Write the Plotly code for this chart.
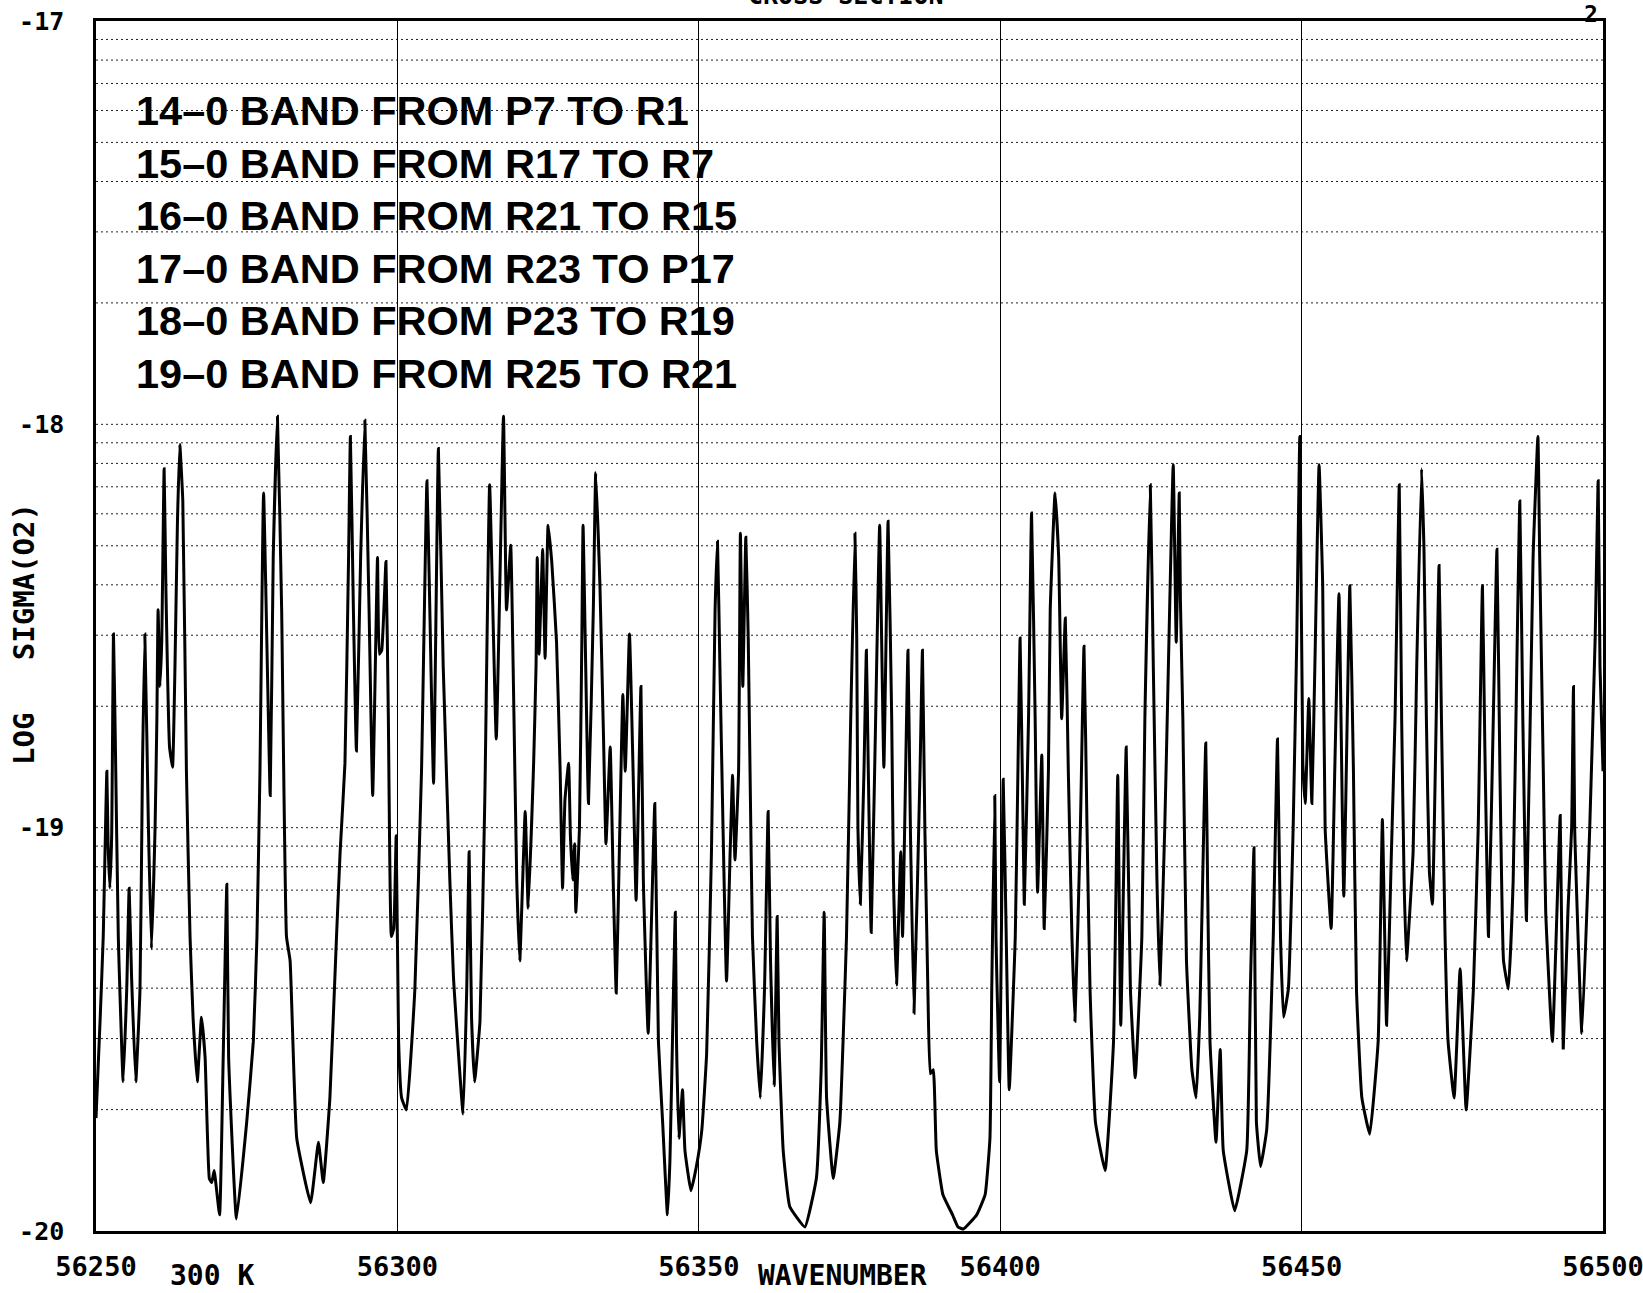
import numpy as np
import plotly.graph_objects as go

# ---------------- data ----------------
wavenumber = [
    56250.0, 56250.7, 56251.2, 56251.8, 56252.0, 56252.3, 56252.6, 56252.9, 56253.2, 56253.7,
    56254.5, 56255.1, 56255.5, 56255.9, 56256.6, 56257.3, 56257.7, 56258.1, 56258.7, 56259.2,
    56259.8, 56260.1, 56260.3, 56260.6, 56260.9, 56261.3, 56261.6, 56262.2, 56262.7, 56263.1,
    56263.5, 56263.9, 56264.4, 56265.0, 56265.6, 56266.1, 56266.8, 56267.5, 56268.1, 56268.8,
    56269.2, 56269.6, 56270.5, 56271.1, 56271.7, 56272.0, 56273.3, 56275.0, 56276.1, 56276.7,
    56277.2, 56277.8, 56278.9, 56279.4, 56280.1, 56280.8, 56281.6, 56282.2, 56283.3, 56285.6,
    56286.9, 56287.7, 56288.8, 56289.9, 56290.5, 56291.3, 56291.9, 56292.2, 56292.7, 56293.2,
    56293.9, 56294.6, 56295.3, 56295.9, 56296.7, 56297.0, 56297.4, 56298.1, 56298.5, 56299.0,
    56299.4, 56299.8, 56300.2, 56300.7, 56301.5, 56302.9, 56304.0, 56304.9, 56305.3, 56306.0,
    56306.8, 56307.6, 56308.7, 56309.3, 56310.9, 56311.5, 56311.9, 56312.3, 56312.8, 56313.7,
    56314.5, 56315.3, 56316.4, 56317.6, 56318.1, 56318.8, 56319.2, 56319.8, 56320.3, 56321.2,
    56321.7, 56322.6, 56323.0, 56323.2, 56323.5, 56324.1, 56324.5, 56325.0, 56325.6, 56326.4,
    56327.0, 56327.4, 56327.8, 56328.4, 56328.7, 56329.1, 56329.4, 56329.6, 56330.2, 56330.6,
    56330.8, 56331.7, 56332.5, 56332.9, 56333.6, 56334.2, 56334.6, 56335.3, 56335.8, 56336.3,
    56336.9, 56337.4, 56337.8, 56338.5, 56339.1, 56339.6, 56340.4, 56340.8, 56341.6, 56342.7,
    56343.3, 56344.0, 56344.8, 56345.2, 56346.1, 56346.3, 56346.7, 56347.3, 56347.7, 56348.7,
    56349.6, 56350.5, 56351.3, 56352.1, 56352.7, 56353.1, 56353.5, 56354.6, 56355.2, 56355.6,
    56356.0, 56356.6, 56356.9, 56357.3, 56357.8, 56358.2, 56358.5, 56358.9, 56359.6, 56360.2,
    56360.9, 56361.5, 56361.9, 56362.5, 56363.0, 56363.3, 56364.0, 56365.1, 56367.6, 56369.5,
    56370.3, 56370.8, 56371.2, 56372.3, 56373.4, 56374.5, 56375.2, 56375.9, 56376.2, 56376.4,
    56376.8, 56377.4, 56377.8, 56378.1, 56378.6, 56379.5, 56380.0, 56380.7, 56381.4, 56382.0,
    56382.3, 56382.8, 56383.5, 56383.8, 56384.7, 56385.1, 56385.7, 56386.7, 56387.1, 56387.5,
    56388.0, 56388.4, 56388.9, 56389.4, 56390.5, 56392.1, 56393.0, 56393.9, 56396.1, 56397.5,
    56398.3, 56398.6, 56399.1, 56399.3, 56399.9, 56400.5, 56401.0, 56401.5, 56402.5, 56403.0,
    56403.3, 56403.8, 56404.0, 56404.7, 56405.2, 56405.8, 56406.2, 56406.9, 56407.3, 56408.0,
    56408.3, 56409.1, 56409.7, 56410.2, 56410.8, 56411.3, 56411.9, 56412.4, 56413.3, 56413.9,
    56414.4, 56414.9, 56415.8, 56417.4, 56418.8, 56419.5, 56420.0, 56420.9, 56421.6, 56422.4,
    56423.5, 56424.0, 56424.9, 56425.4, 56426.0, 56426.5, 56427.3, 56427.9, 56428.7, 56429.2,
    56429.7, 56429.9, 56430.3, 56430.9, 56431.8, 56432.5, 56433.1, 56434.1, 56434.4, 56434.8,
    56435.8, 56436.5, 56437.0, 56438.9, 56440.9, 56441.5, 56442.1, 56442.5, 56443.2, 56444.2,
    56445.3, 56446.0, 56446.5, 56447.0, 56447.8, 56448.6, 56449.2, 56449.7, 56450.2, 56450.6,
    56451.2, 56451.7, 56452.2, 56452.9, 56453.5, 56453.9, 56454.9, 56455.5, 56456.2, 56457.0,
    56458.0, 56458.6, 56459.1, 56460.0, 56461.3, 56462.7, 56463.4, 56464.1, 56464.9, 56465.5,
    56466.2, 56466.6, 56467.0, 56467.4, 56468.5, 56469.1, 56469.9, 56470.3, 56470.7, 56471.2,
    56471.7, 56472.8, 56473.2, 56473.8, 56474.3, 56475.3, 56476.3, 56477.3, 56478.5, 56479.3,
    56480.0, 56480.4, 56481.0, 56481.8, 56482.4, 56482.9, 56483.5, 56484.3, 56485.1, 56485.7,
    56486.2, 56486.7, 56487.3, 56488.4, 56489.2, 56489.5, 56490.1, 56490.5, 56491.6, 56492.9,
    56493.4, 56494.2, 56494.8, 56495.1, 56495.3, 56496.5, 56497.8, 56498.7, 56499.2, 56499.5,
    56500.0,
]

log_sigma = [
    -19.72, -19.47, -19.27, -18.86, -19.04, -19.15, -19.02, -18.52, -18.78, -19.27,
    -19.63, -19.40, -19.15, -19.37, -19.63, -19.40, -18.86, -18.52, -19.00, -19.30,
    -19.00, -18.73, -18.46, -18.65, -18.54, -18.11, -18.41, -18.80, -18.85, -18.60,
    -18.25, -18.05, -18.19, -18.86, -19.27, -19.47, -19.63, -19.47, -19.57, -19.87,
    -19.88, -19.85, -19.96, -19.57, -19.14, -19.57, -19.97, -19.73, -19.53, -19.27,
    -18.86, -18.17, -18.92, -18.33, -17.98, -18.46, -19.27, -19.33, -19.77, -19.93,
    -19.78, -19.88, -19.67, -19.27, -19.06, -18.84, -18.33, -18.03, -18.46, -18.81,
    -18.33, -17.99, -18.46, -18.92, -18.33, -18.57, -18.56, -18.34, -18.73, -19.27,
    -19.25, -19.02, -19.53, -19.67, -19.70, -19.40, -18.86, -18.14, -18.40, -18.89,
    -18.06, -18.60, -19.13, -19.37, -19.71, -19.40, -19.06, -19.47, -19.63, -19.48,
    -18.93, -18.15, -18.78, -17.98, -18.46, -18.30, -18.60, -19.13, -19.33, -18.96,
    -19.20, -18.84, -18.60, -18.33, -18.57, -18.31, -18.58, -18.25, -18.34, -18.54,
    -18.86, -19.15, -18.93, -18.84, -19.02, -19.13, -19.04, -19.21, -19.00, -18.53,
    -18.25, -18.94, -18.46, -18.12, -18.40, -18.78, -19.04, -18.80, -19.13, -19.41,
    -19.00, -18.67, -18.86, -18.52, -18.86, -19.18, -18.65, -19.13, -19.51, -18.94,
    -19.53, -19.73, -19.96, -19.83, -19.21, -19.53, -19.77, -19.65, -19.80, -19.90,
    -19.84, -19.75, -19.56, -19.06, -18.46, -18.29, -18.60, -19.38, -19.06, -18.87,
    -19.08, -18.86, -18.27, -18.65, -18.28, -18.53, -18.86, -19.27, -19.53, -19.67,
    -19.40, -18.96, -19.33, -19.64, -19.22, -19.53, -19.80, -19.94, -19.99, -19.87,
    -19.60, -19.21, -19.67, -19.87, -19.73, -19.27, -18.73, -18.27, -18.53, -19.00,
    -19.19, -18.86, -18.56, -18.84, -19.26, -18.60, -18.25, -18.85, -18.24, -18.73,
    -19.13, -19.39, -19.06, -19.27, -18.56, -19.00, -19.46, -18.86, -18.56, -19.00,
    -19.40, -19.61, -19.60, -19.80, -19.91, -19.96, -19.99, -19.995, -19.96, -19.91,
    -19.77, -19.40, -18.92, -19.27, -19.63, -18.88, -19.27, -19.65, -19.27, -18.80,
    -18.53, -19.00, -19.19, -18.73, -18.22, -18.73, -19.16, -18.82, -19.25, -18.86,
    -18.46, -18.17, -18.33, -18.73, -18.48, -18.86, -19.27, -19.48, -19.00, -18.55,
    -19.00, -19.40, -19.73, -19.85, -19.53, -18.87, -19.49, -18.80, -19.40, -19.62,
    -19.27, -18.73, -18.15, -18.60, -19.13, -19.39, -19.00, -18.60, -18.10, -18.54,
    -18.17, -18.44, -18.73, -19.33, -19.60, -19.67, -19.47, -18.79, -19.13, -19.53,
    -19.78, -19.55, -19.80, -19.95, -19.80, -19.40, -19.05, -19.73, -19.84, -19.75,
    -19.27, -18.78, -19.27, -19.47, -19.40, -19.00, -18.53, -18.03, -18.84, -18.94,
    -18.68, -18.94, -18.60, -18.10, -18.40, -19.00, -19.25, -18.86, -18.42, -19.17,
    -18.40, -18.86, -19.40, -19.67, -19.76, -19.53, -18.98, -19.49, -19.06, -18.73,
    -18.15, -18.73, -19.13, -19.33, -19.06, -18.60, -18.11, -18.31, -18.73, -19.11,
    -19.19, -18.35, -18.73, -19.27, -19.53, -19.67, -19.35, -19.70, -19.40, -19.00,
    -18.40, -18.80, -19.27, -18.73, -18.31, -18.86, -19.33, -19.40, -19.13, -18.60,
    -18.19, -18.73, -19.23, -18.33, -18.03, -18.33, -18.86, -19.21, -19.53, -18.97,
    -19.55, -19.20, -19.00, -18.65, -19.00, -19.51, -19.00, -18.53, -18.14, -18.60,
    -18.86,
]

x_ticks = [56250, 56300, 56350, 56400, 56450, 56500]
y_ticks = [-20, -19, -18, -17]
y_tick_text = ["-20", "-19", "-18", "-17"]

band_labels = [
    "14\u20130 BAND FROM P7 TO R1",
    "15\u20130 BAND FROM R17 TO R7",
    "16\u20130 BAND FROM R21 TO R15",
    "17\u20130 BAND FROM R23 TO P17",
    "18\u20130 BAND FROM P23 TO R19",
    "19\u20130 BAND FROM R25 TO R21",
]
title_text = "CROSS SECTION"
page_number = "2"
temperature_label = "300 K"
x_title = "WAVENUMBER"
y_title = "LOG\u00a0\u00a0\u00a0SIGMA(O2)"

# ---------------- layout geometry ----------------
W, H = 1643, 1293
L, R, T, B = 96, 40, 21, 62
PW, PH = W - L - R, H - T - B


def px_x(p):
    return (p - L) / PW


def px_y(p):
    return 1 - (p - T) / PH


MONO = "DejaVu Sans Mono, Liberation Mono, monospace"
SANS = "Liberation Sans, Arial, Helvetica, sans-serif"

fig = go.Figure()
fig.add_trace(go.Scatter(
    x=wavenumber, y=log_sigma, mode="lines",
    line=dict(color="black", width=3, shape="spline", smoothing=0.35),
    hoverinfo="skip", showlegend=False,
))

# dotted log-scale grid lines (minor decades of sigma)
shapes = []
for d in (-20, -19, -18):
    for k in range(1, 10):
        yv = d + np.log10(k)
        if yv <= -20 or yv >= -17:
            continue
        shapes.append(dict(
            type="line", xref="paper", yref="y", x0=0, x1=1, y0=yv, y1=yv,
            line=dict(color="#222222", width=1, dash="2px,3px"), layer="below",
        ))

annotations = []
for i, txt in enumerate(band_labels):
    annotations.append(dict(
        text="<b>" + txt + "</b>", xref="paper", yref="paper",
        x=px_x(134), y=px_y(111 + i * 52.4), xanchor="left", yanchor="middle",
        showarrow=False, font=dict(family=SANS, size=41.5, color="black"),
    ))

annotations += [
    dict(text="<b>" + y_title + "</b>", xref="paper", yref="paper", x=px_x(24), y=px_y(634),
         textangle=-90, showarrow=False, xanchor="center", yanchor="middle",
         font=dict(family=MONO, size=29, color="black")),
    dict(text="<b>" + x_title + "</b>", xref="paper", yref="paper", x=px_x(842), y=px_y(1275),
         showarrow=False, xanchor="center", yanchor="middle",
         font=dict(family=MONO, size=28, color="black")),
    dict(text="<b>" + temperature_label + "</b>", xref="paper", yref="paper",
         x=px_x(212), y=px_y(1275),
         showarrow=False, xanchor="center", yanchor="middle",
         font=dict(family=MONO, size=28, color="black")),
    dict(text="<b>" + title_text + "</b>", xref="paper", yref="paper", x=px_x(846), y=px_y(-4),
         showarrow=False, xanchor="center", yanchor="middle",
         font=dict(family=MONO, size=25, color="black")),
    dict(text="<b>" + page_number + "</b>", xref="paper", yref="paper",
         x=px_x(1591), y=px_y(14),
         showarrow=False, xanchor="center", yanchor="middle",
         font=dict(family=MONO, size=23, color="black")),
]

fig.update_layout(
    width=W, height=H,
    margin=dict(l=L, r=R, t=T, b=B, pad=0, autoexpand=False),
    paper_bgcolor="white", plot_bgcolor="white",
    shapes=shapes, annotations=annotations,
    showlegend=False,
    xaxis=dict(
        range=[56250, 56500], tickvals=x_ticks,
        ticktext=["<b>%d</b>" % v for v in x_ticks],
        showgrid=True, gridcolor="black", gridwidth=1, automargin=False,
        showline=True, linecolor="black", linewidth=2.5, mirror=True,
        ticks="", zeroline=False, ticklabelstandoff=10, ticklabeloverflow="allow",
        tickfont=dict(family=MONO, size=27, color="black"),
    ),
    yaxis=dict(
        range=[-20, -17], tickvals=y_ticks,
        ticktext=["<b>" + t + "</b>" for t in y_tick_text], automargin=False,
        showgrid=False, showline=True, linecolor="black", linewidth=2.5, mirror=True,
        ticks="", zeroline=False, ticklabelstandoff=24,
        tickfont=dict(family=MONO, size=25, color="black"),
    ),
)

fig.write_html("out.html")
